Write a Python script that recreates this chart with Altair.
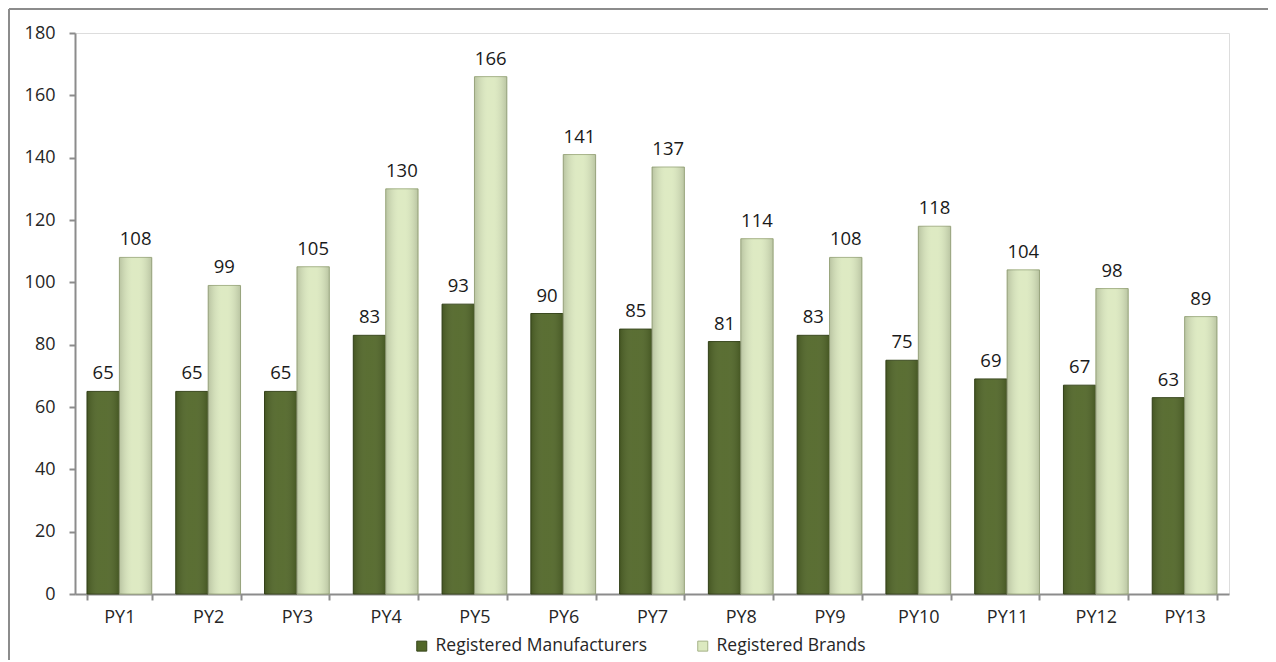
import altair as alt
import pandas as pd

categories = [f"PY{i}" for i in range(1, 14)]
manufacturers = [65, 65, 65, 83, 93, 90, 85, 81, 83, 75, 69, 67, 63]
brands = [108, 99, 105, 130, 166, 141, 137, 114, 108, 118, 104, 98, 89]
series_names = ["Registered Manufacturers", "Registered Brands"]
y_ticks = list(range(0, 181, 20))

rows = []
for c, m, b in zip(categories, manufacturers, brands):
    rows.append({"category": c, "series": series_names[0], "value": m})
    rows.append({"category": c, "series": series_names[1], "value": b})
df = pd.DataFrame(rows)

FONT = "Open Sans"
AXIS_GRAY = "#8c8c8c"
fill_colors = ["#526729", "#dce9c0"]
stroke_colors = ["#36451a", "#a5b287"]

x_enc = alt.X(
    "category:N", sort=categories, title=None,
    scale=alt.Scale(paddingInner=0.27, paddingOuter=0.135),
    axis=alt.Axis(labelAngle=0, tickBand="extent", domainColor=AXIS_GRAY, domainWidth=2,
                  tickColor=AXIS_GRAY, tickWidth=2, tickSize=6, labelPadding=8,
                  labelFont=FONT, labelFontSize=18, labelColor="#262626"),
)
xo_enc = alt.XOffset("series:N", sort=series_names, scale=alt.Scale(domain=series_names))
y_enc = alt.Y(
    "value:Q", title=None,
    scale=alt.Scale(domain=[0, 180], nice=False),
    axis=alt.Axis(values=y_ticks, grid=False, domainColor=AXIS_GRAY, domainWidth=2,
                  tickColor=AXIS_GRAY, tickWidth=2, tickSize=6, labelPadding=14,
                  labelFont=FONT, labelFontSize=18, labelColor="#262626"),
)

base = alt.Chart(df)

bars = base.mark_bar(strokeWidth=1).encode(
    x=x_enc, xOffset=xo_enc, y=y_enc,
    color=alt.Color("series:N", sort=series_names,
                    scale=alt.Scale(domain=series_names, range=fill_colors),
                    legend=alt.Legend(title=None, orient="none", direction="horizontal",
                                      legendX=338, legendY=604, columnPadding=46,
                                      symbolType="square", symbolSize=100, labelLimit=0,
                                      symbolStrokeWidth=1, symbolStrokeColor="#36451a",
                                      labelFont=FONT, labelFontSize=17.5, labelColor="#262626",
                                      symbolOffset=0, labelOffset=5, padding=0)),
    stroke=alt.Stroke("series:N", sort=series_names,
                      scale=alt.Scale(domain=series_names, range=stroke_colors), legend=None),
)

shade = base.mark_bar(
    color=alt.Gradient(
        gradient="linear", x1=0, x2=1, y1=0, y2=0,
        stops=[
            alt.GradientStop(color="rgba(0,0,0,0.16)", offset=0),
            alt.GradientStop(color="rgba(255,255,255,0.05)", offset=0.4),
            alt.GradientStop(color="rgba(255,255,255,0.05)", offset=0.6),
            alt.GradientStop(color="rgba(0,0,0,0.16)", offset=1),
        ],
    )
).encode(x=x_enc, xOffset=xo_enc, y=y_enc)

labels = base.mark_text(baseline="alphabetic", dy=-12, font=FONT, fontSize=18.5, color="#1a1a1a").encode(
    x=x_enc, xOffset=xo_enc, y=y_enc, text=alt.Text("value:Q")
)

frame = alt.Data(values=[{}])
top_line = alt.Chart(frame).mark_rule(color=AXIS_GRAY, strokeWidth=2).encode(
    x=alt.value(-66), x2=alt.value(1193), y=alt.value(-24)
)
left_line = alt.Chart(frame).mark_rule(color=AXIS_GRAY, strokeWidth=2).encode(
    x=alt.value(-66), y=alt.value(-24), y2=alt.value(630)
)

chart = alt.layer(bars, shade, labels, top_line, left_line).properties(
    width=1154, height=561,
    autosize=alt.AutoSizeParams(type="none"),
    padding={"left": 67, "top": 25, "right": 39, "bottom": 66},
).configure_view(stroke=None).configure(background="white")

chart.save("out.html", embed_options={"renderer": "svg", "actions": False})
